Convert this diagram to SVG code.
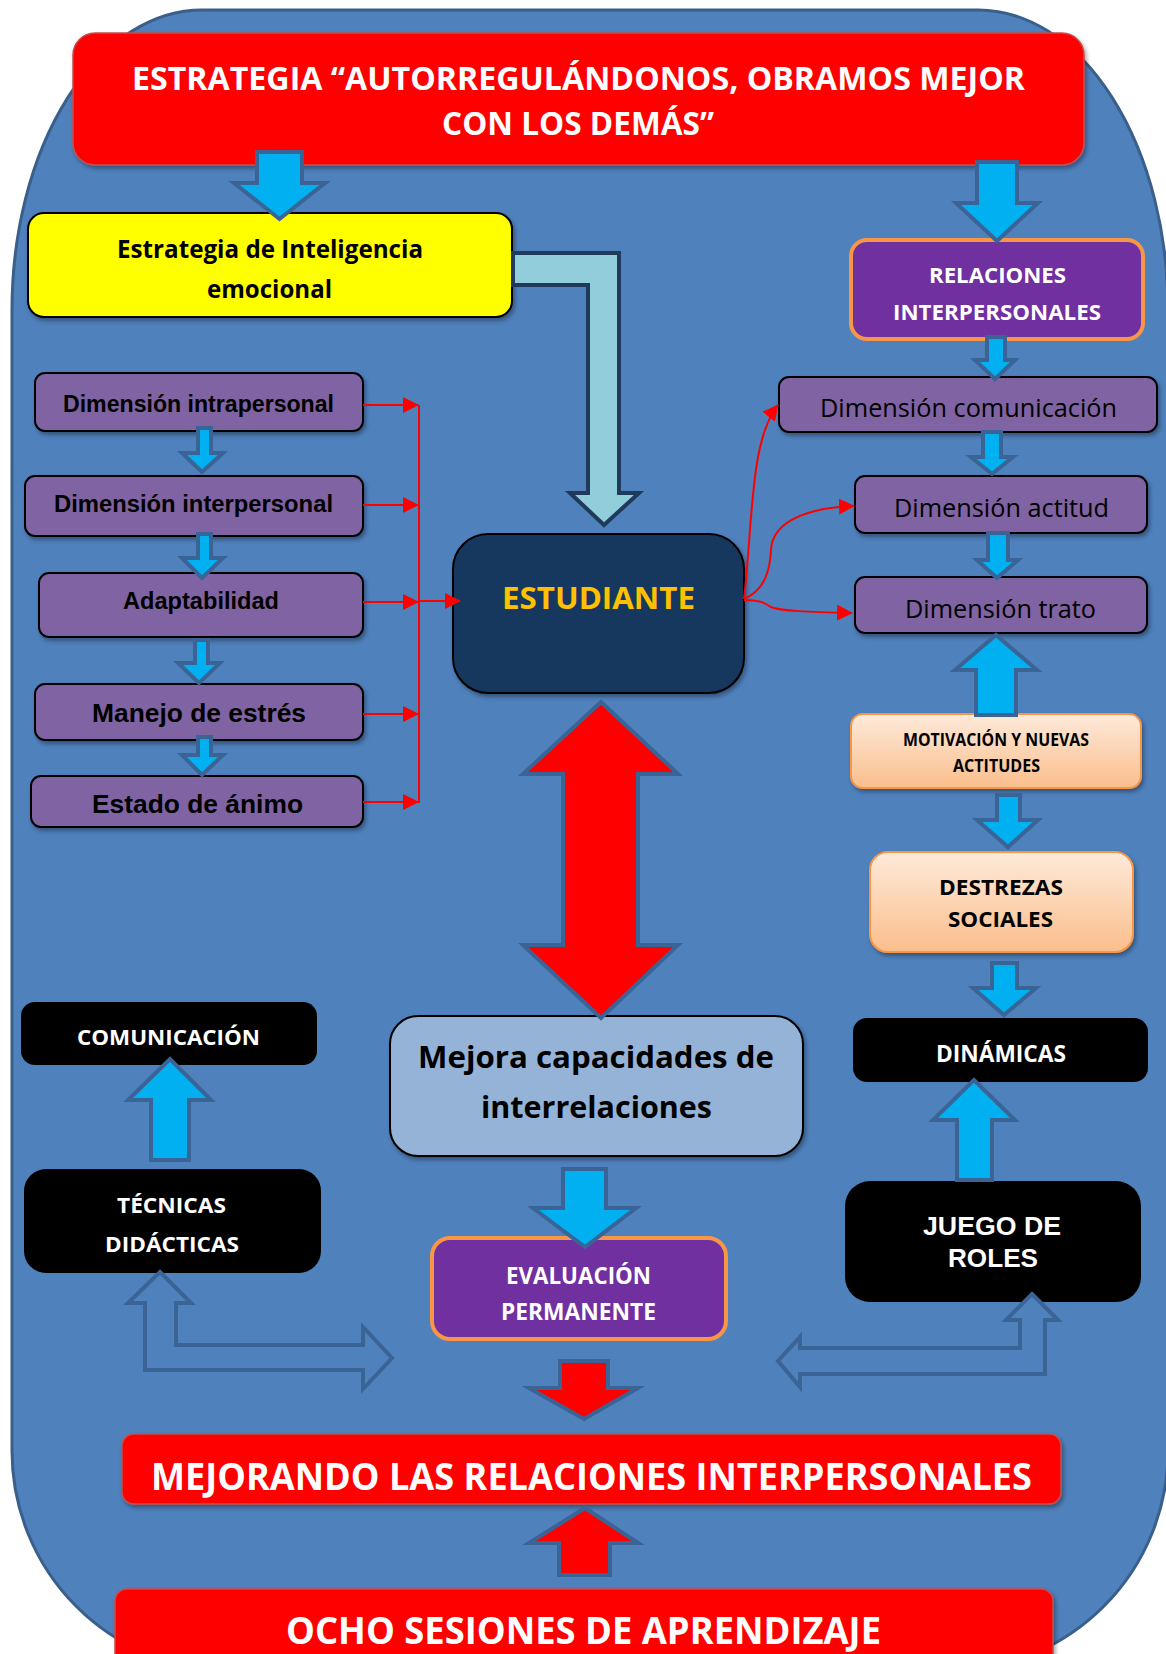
<svg xmlns="http://www.w3.org/2000/svg" width="1166" height="1654" viewBox="0 0 1166 1654">
<defs>
<filter id="sh" x="-10%" y="-10%" width="130%" height="140%"><feDropShadow dx="2" dy="3" stdDeviation="2" flood-color="#000" flood-opacity="0.35"/></filter>
<linearGradient id="peach" x1="0" y1="0" x2="0" y2="1"><stop offset="0" stop-color="#FDEADA"/><stop offset="1" stop-color="#FBBE8C"/></linearGradient>
<marker id="ah" markerUnits="userSpaceOnUse" markerWidth="16" markerHeight="16" viewBox="0 0 16 16" refX="15" refY="8" orient="auto"><path d="M0,0 L16,8 L0,16 Z" fill="#FF0000"/></marker>
<style>
.cal{font-family:"Open Sans","Liberation Sans",sans-serif;font-weight:bold}
.calr{font-family:"Open Sans","Liberation Sans",sans-serif;font-weight:normal}
.ari{font-family:"Liberation Sans",Arial,sans-serif;font-weight:bold}
.w{fill:#FFFFFF}.k{fill:#000000}
.red{fill:#FF0000;stroke:#C0504D;stroke-width:1.5}
.pur{fill:#8064A2;stroke:#000;stroke-width:2}
.vio{fill:#7030A0;stroke:#F79646;stroke-width:4}
.blk{fill:#000000}
.pch{fill:url(#peach);stroke:#F79646;stroke-width:2}
.ba{fill:#00B0F0;stroke:#3B6496;stroke-width:4;stroke-linejoin:miter}
.ra{fill:#FF0000;stroke:#3B6496;stroke-width:4;stroke-linejoin:miter}
.ho{fill:#4F81BD;stroke:#3B6496;stroke-width:4;stroke-linejoin:miter}
.rl{fill:none;stroke:#FF0000;stroke-width:2}
</style>
</defs>
<path id="bg" d="M202,10 H978 A190,300 0 0 1 1168,310 V1451 A220,220 0 0 1 948,1671 H232 A220,220 0 0 1 12,1451 V310 A190,300 0 0 1 202,10 Z" fill="#4F81BD" stroke="#3A5F8B" stroke-width="3"/>

<g id="header"><rect class="red" x="73" y="33" width="1011" height="132" rx="22" filter="url(#sh)"/>
<text class="cal w" x="132" y="90" font-size="32" textLength="893" lengthAdjust="spacingAndGlyphs">ESTRATEGIA “AUTORREGULÁNDONOS, OBRAMOS MEJOR</text>
<text class="cal w" x="442" y="135" font-size="32" textLength="272" lengthAdjust="spacingAndGlyphs">CON LOS DEMÁS”</text></g>

<g id="inteligencia"><rect x="28" y="213" width="484" height="104" rx="16" fill="#FFFF00" stroke="#000" stroke-width="2" filter="url(#sh)"/>
<text class="cal k" x="117" y="258" font-size="25" textLength="306" lengthAdjust="spacingAndGlyphs">Estrategia de Inteligencia</text>
<text class="cal k" x="207" y="298" font-size="25" textLength="125" lengthAdjust="spacingAndGlyphs">emocional</text></g>

<g id="relaciones"><rect class="vio" x="851" y="240" width="292" height="99" rx="16"/>
<text class="cal w" x="929" y="283" font-size="22" textLength="137" lengthAdjust="spacingAndGlyphs">RELACIONES</text>
<text class="cal w" x="893" y="320" font-size="22" textLength="208" lengthAdjust="spacingAndGlyphs">INTERPERSONALES</text></g>

<g id="dim-intra"><rect class="pur" x="35" y="373" width="328" height="58" rx="10" filter="url(#sh)"/>
<text class="ari k" x="63" y="412" font-size="23" textLength="271" lengthAdjust="spacingAndGlyphs">Dimensión intrapersonal</text></g>
<g id="dim-inter"><rect class="pur" x="25" y="476" width="338" height="60" rx="10" filter="url(#sh)"/>
<text class="ari k" x="54" y="512" font-size="23.5" textLength="279" lengthAdjust="spacingAndGlyphs">Dimensión interpersonal</text></g>
<g id="adaptabilidad"><rect class="pur" x="39" y="573" width="324" height="64" rx="10" filter="url(#sh)"/>
<text class="ari k" x="123" y="609" font-size="23.5" textLength="156" lengthAdjust="spacingAndGlyphs">Adaptabilidad</text></g>
<g id="estres"><rect class="pur" x="35" y="684" width="328" height="56" rx="10" filter="url(#sh)"/>
<text class="ari k" x="92" y="722" font-size="26" textLength="214" lengthAdjust="spacingAndGlyphs">Manejo de estrés</text></g>
<g id="animo"><rect class="pur" x="31" y="776" width="332" height="51" rx="10" filter="url(#sh)"/>
<text class="ari k" x="92" y="813" font-size="26" textLength="211" lengthAdjust="spacingAndGlyphs">Estado de ánimo</text></g>

<g id="estudiante"><rect x="453" y="534" width="291" height="159" rx="35" fill="#17375E" stroke="#000" stroke-width="2" filter="url(#sh)"/>
<text class="cal" fill="#FFC000" x="502" y="609" font-size="31" textLength="193" lengthAdjust="spacingAndGlyphs">ESTUDIANTE</text></g>

<g id="dim-com"><rect class="pur" x="779" y="377" width="378" height="55" rx="10" filter="url(#sh)"/>
<text class="calr k" x="820" y="417" font-size="25" textLength="297" lengthAdjust="spacingAndGlyphs">Dimensión comunicación</text></g>
<g id="dim-act"><rect class="pur" x="855" y="476" width="292" height="57" rx="10" filter="url(#sh)"/>
<text class="calr k" x="894" y="517" font-size="25" textLength="215" lengthAdjust="spacingAndGlyphs">Dimensión actitud</text></g>
<g id="dim-trato"><rect class="pur" x="855" y="577" width="292" height="56" rx="10" filter="url(#sh)"/>
<text class="calr k" x="905" y="618" font-size="25" textLength="191" lengthAdjust="spacingAndGlyphs">Dimensión trato</text></g>

<g id="motivacion"><rect class="pch" x="851" y="714" width="290" height="74" rx="12" filter="url(#sh)"/>
<text class="cal k" x="903" y="746" font-size="17" textLength="186" lengthAdjust="spacingAndGlyphs">MOTIVACIÓN Y NUEVAS</text>
<text class="cal k" x="953" y="772" font-size="17" textLength="87" lengthAdjust="spacingAndGlyphs">ACTITUDES</text></g>

<g id="destrezas"><rect class="pch" x="870" y="852" width="263" height="100" rx="18" filter="url(#sh)"/>
<text class="cal k" x="939" y="895" font-size="22" textLength="124" lengthAdjust="spacingAndGlyphs">DESTREZAS</text>
<text class="cal k" x="948" y="927" font-size="22" textLength="105" lengthAdjust="spacingAndGlyphs">SOCIALES</text></g>

<g id="dinamicas"><rect class="blk" x="853" y="1018" width="295" height="64" rx="14"/>
<text class="cal w" x="936" y="1062" font-size="23" textLength="130" lengthAdjust="spacingAndGlyphs">DINÁMICAS</text></g>

<g id="comunicacion"><rect class="blk" x="21" y="1002" width="296" height="63" rx="14"/>
<text class="cal w" x="77" y="1045" font-size="22" textLength="183" lengthAdjust="spacingAndGlyphs">COMUNICACIÓN</text></g>

<g id="mejora"><rect x="390" y="1016" width="413" height="140" rx="28" fill="#95B3D7" stroke="#000" stroke-width="2" filter="url(#sh)"/>
<text class="cal k" x="418" y="1068" font-size="31" textLength="356" lengthAdjust="spacingAndGlyphs">Mejora capacidades de</text>
<text class="cal k" x="481" y="1118" font-size="31" textLength="231" lengthAdjust="spacingAndGlyphs">interrelaciones</text></g>

<g id="tecnicas"><rect class="blk" x="24" y="1169" width="297" height="104" rx="22"/>
<text class="cal w" x="117" y="1213" font-size="22" textLength="109" lengthAdjust="spacingAndGlyphs">TÉCNICAS</text>
<text class="cal w" x="105" y="1252" font-size="22" textLength="134" lengthAdjust="spacingAndGlyphs">DIDÁCTICAS</text></g>

<g id="juego"><rect class="blk" x="845" y="1181" width="296" height="121" rx="25"/>
<text class="ari w" x="923" y="1235" font-size="26" textLength="138" lengthAdjust="spacingAndGlyphs">JUEGO DE</text>
<text class="ari w" x="948" y="1267" font-size="26" textLength="90" lengthAdjust="spacingAndGlyphs">ROLES</text></g>

<g id="evaluacion"><rect class="vio" x="432" y="1238" width="294" height="101" rx="18"/>
<text class="cal w" x="506" y="1284" font-size="23" textLength="145" lengthAdjust="spacingAndGlyphs">EVALUACIÓN</text>
<text class="cal w" x="501" y="1320" font-size="23" textLength="155" lengthAdjust="spacingAndGlyphs">PERMANENTE</text></g>

<g id="mejorando"><rect class="red" x="122" y="1434" width="939" height="70" rx="12" filter="url(#sh)"/>
<text class="cal w" x="151" y="1490" font-size="38" textLength="881" lengthAdjust="spacingAndGlyphs">MEJORANDO LAS RELACIONES INTERPERSONALES</text></g>

<g id="ocho"><rect class="red" x="115" y="1589" width="938" height="90" rx="12" filter="url(#sh)"/>
<text class="cal w" x="286" y="1644" font-size="37" textLength="595" lengthAdjust="spacingAndGlyphs">OCHO SESIONES DE APRENDIZAJE</text></g>

<g id="connectors">
<path class="ba" d="M257,152 H302 V183 H325 L279.5,219 L234,183 H257 Z"/>
<path class="ba" d="M977,162 H1017 V203 H1038 L997,241 L956,203 H977 Z"/>
<path class="ba" d="M987,337 H1005 V360 H1015 L995,379 L975,360 H987 Z"/>
<path class="ba" d="M983,432 H1001 V457 H1013 L992,474 L971,457 H983 Z"/>
<path class="ba" d="M988,533 H1008 V560 H1018 L997,578 L977,560 H988 Z"/>
<path class="ba" d="M976,715 H1016 V670 H1037 L996,635 L955,670 H976 Z"/>
<path class="ba" d="M997,795 H1020 V820 H1038 L1008,847 L977,820 H997 Z"/>
<path class="ba" d="M992,963 H1017 V988 H1036 L1004,1015 L973,988 H992 Z"/>
<path class="ba" d="M957,1180 H992 V1120 H1015 L974,1080 L933,1120 H957 Z"/>
<path class="ba" d="M151,1160 H189 V1100 H211 L170,1059 L128,1100 H151 Z"/>
<path class="ba" d="M563,1169 H606 V1208 H636 L585,1247 L533,1208 H563 Z"/>
<path class="ba" d="M198,428 H211 V453 H223 L202,472 L182,453 H198 Z"/>
<path class="ba" d="M198,534 H211 V558 H223 L202,578 L182,558 H198 Z"/>
<path class="ba" d="M195,640 H208 V663 H220 L199,683 L178,663 H195 Z"/>
<path class="ba" d="M198,737 H211 V755 H223 L202,775 L182,755 H198 Z"/>
<path d="M513,253 H619 V493 H639 L604,525 L570,493 H588 V285 H513 Z" fill="#92CDDC" stroke="#1F3A5A" stroke-width="4" stroke-linejoin="miter"/>
<path class="ra" d="M601,702 L678,774 H638 V945 H678 L601,1018 L523,945 H563 V774 H523 Z"/>
<path class="ra" d="M560,1361 H608 V1388 H638 L584,1419 L529,1388 H560 Z"/>
<path class="ra" d="M559,1575 H610 V1543 H638 L585,1508 L529,1543 H559 Z"/>
<path class="ho" d="M160,1272 L191,1303 H176 V1345 H363 V1327 L392,1358 L363,1389 V1370 H145 V1303 H128 Z"/>
<path class="ho" d="M1032,1294 L1058,1320 H1045 V1374 H800 V1387 L778,1361 L800,1337 V1348 H1020 V1320 H1006 Z"/>
<line class="rl" x1="363" y1="405" x2="418" y2="405" marker-end="url(#ah)"/>
<line class="rl" x1="363" y1="505" x2="418" y2="505" marker-end="url(#ah)"/>
<line class="rl" x1="363" y1="602" x2="418" y2="602" marker-end="url(#ah)"/>
<line class="rl" x1="363" y1="714" x2="418" y2="714" marker-end="url(#ah)"/>
<line class="rl" x1="363" y1="802" x2="418" y2="802" marker-end="url(#ah)"/>
<line class="rl" x1="419" y1="405" x2="419" y2="803"/>
<line class="rl" x1="419" y1="601" x2="460" y2="601" marker-end="url(#ah)"/>
<path class="rl" d="M744,599 C753,520 750,440 778,405" marker-end="url(#ah)"/>
<path class="rl" d="M744,599 C765,590 770,570 771,550 C772,525 800,508 854,506" marker-end="url(#ah)"/>
<path class="rl" d="M744,600 C760,600 765,603 771,607 C780,611 810,612 852,613" marker-end="url(#ah)"/>
</g>
</svg>
